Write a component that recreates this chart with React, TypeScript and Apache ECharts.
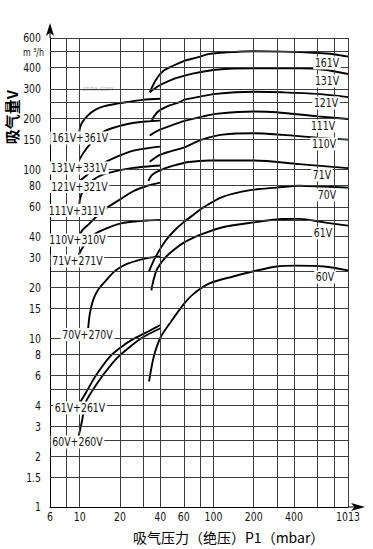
import React, { useEffect, useRef } from 'react';
import * as echarts from 'echarts';

// ---- axes / grid values ----
const xGridLines = [8, 10, 20, 30, 40, 60, 80, 100, 200, 300, 400, 600, 800, 1013];
const xTickLabels = [6, 10, 20, 40, 60, 100, 200, 400, 1013];
const yGridLines = [1.5, 2, 2.5, 3, 4, 5, 6, 8, 10, 15, 20, 25, 30, 40, 50, 60, 80, 100, 150, 200, 250, 300, 400, 500, 600];
const yTickLabels = [1, 1.5, 2, 3, 4, 6, 8, 10, 15, 20, 30, 40, 60, 80, 100, 150, 200, 300, 400, 600];
const yUnitAt = 500;
const yUnitText = 'm ³/h';

// ---- combination curves (pressure mbar, flow m3/h) ----
const c161_361 = [[9.93, 156], [10.05, 177], [10.55, 192], [11.53, 209], [13.06, 225], [15.06, 236], [18.96, 245], [23.9, 252], [29.5, 258], [40, 262]];
const c131_331 = [[9.95, 114.5], [10.85, 127.5], [11.88, 140], [13.5, 154], [15.5, 169], [19.1, 179], [23.8, 187], [31.2, 192], [39.8, 194.5]];
const c121_321 = [[10, 85.4], [10.74, 89.4], [11.53, 93.6], [13.06, 101.4], [15.06, 109], [19.06, 119], [23.8, 127.5], [31.2, 133], [39.8, 136.4]];
const c111_311 = [[9.9, 60], [10.09, 67.7], [10.55, 74.2], [11.33, 80.5], [12.16, 84.8], [13.36, 89.2], [15.06, 93.3], [19.65, 98.7], [25.1, 102], [32.1, 104], [39.8, 105.5]];
const c110_310 = [[9.85, 40], [10.55, 43.9], [11.88, 47.9], [13.77, 53.9], [15.87, 59.1], [19.65, 65.7], [25.1, 74.2], [32.1, 80], [39.8, 83.5]];
const c71_271 = [[9.7, 30.4], [10.24, 33.2], [11.13, 36.8], [12.16, 40], [15.06, 43.9], [19.65, 47.5], [25.1, 49], [32.1, 49.8], [39.8, 50.2]];
const c70_270 = [[11.53, 11], [11.88, 13.8], [12.6, 16.8], [13.77, 19.4], [15.6, 21.8], [18, 24.7], [20.2, 26.3], [23.1, 27.7], [26.5, 28.7], [32.1, 29.8], [39.8, 30.5]];
const c61_261 = [[9.85, 4.04], [11.2, 4.8], [13.36, 6.09], [16.96, 7.84], [21.34, 9.09], [26.5, 10.1], [33, 11.03], [40.2, 11.97]];
const c60_260 = [[9.7, 2.52], [10.42, 3.24], [11.06, 4.14], [12.6, 4.96], [15.06, 6.09], [19.06, 7.64], [23.8, 8.91], [29.5, 10.1], [40.2, 11.45]];

// ---- single pump curves ----
const r161 = [[33.4, 286], [36.9, 336], [41.5, 379], [49.9, 411], [60, 438], [74.7, 459], [93.8, 483], [123.8, 493], [200, 501], [330, 498], [600, 489], [787, 481], [1013, 465]];
const r131 = [[33.4, 286], [39.1, 313], [47, 336], [56.4, 353], [71, 370], [103.6, 389], [200, 397], [440, 397], [671, 389], [1013, 367]];
const r121 = [[34.5, 192], [35.9, 206], [39.1, 222], [47, 239], [56.4, 251], [60, 258], [71, 265], [104, 280], [200, 288], [330, 286], [603, 280], [1013, 268]];
const r111 = [[33.4, 158.5], [35.6, 164], [39.1, 171], [47, 180.5], [60, 193], [83.9, 206], [104, 213], [200, 220], [296, 218], [603, 206], [1013, 198.6]];
const r110 = [[33.4, 111], [39.1, 121], [47, 127.5], [60, 134.6], [71, 143], [83.9, 151], [117.3, 160.6], [200, 163.5], [330, 160], [603, 154], [1013, 150]];
const r71 = [[32.65, 85.4], [34.9, 93], [41.5, 100], [52.7, 106.2], [65.3, 110.6], [93.3, 112.9], [200, 112.9], [438, 107.4], [1013, 101.7]];
const r70 = [[33, 24.9], [36.9, 30.3], [44.1, 38], [51.8, 43.9], [60, 48.7], [71, 53.9], [83.9, 59.5], [117.3, 68.8], [188.7, 75.3], [296, 78], [438, 80], [671, 79], [1013, 78]];
const r61 = [[34.35, 19.2], [35.8, 22.4], [38, 25.8], [44.1, 30.3], [51.8, 33.9], [60, 36.8], [71, 39.4], [83.9, 41.6], [117.3, 45.4], [200, 48.5], [330, 50.8], [438, 50.9], [671, 48.5], [1013, 46.4]];
const r60 = [[33, 5.54], [35.9, 7.84], [40.2, 10.1], [48.4, 12.6], [60, 15.9], [71, 18.3], [93.3, 21.1], [140.2, 23.2], [200, 24.9], [296, 26.6], [410, 26.9], [671, 26.6], [1013, 25.2]];

const curveNames = ['161V+361V', '131V+331V', '121V+321V', '111V+311V', '110V+310V', '71V+271V', '70V+270V', '61V+261V', '60V+260V',
  '161V', '131V', '121V', '111V', '110V', '71V', '70V', '61V', '60V'];
const curveData = [c161_361, c131_331, c121_321, c111_311, c110_310, c71_271, c70_270, c61_261, c60_260,
  r161, r131, r121, r111, r110, r71, r70, r61, r60];

const xTitle = '吸气压力（绝压）P1（mbar）';
const yTitle = '吸气量V';
const watermark = 'zbba.com';

// label placement (pixels) — layout only
const labelPos: Record<string, [number, number]> = {
  '161V+361V': [80, 138], '131V+331V': [79, 168], '121V+321V': [79.5, 186.5], '111V+311V': [77, 210.5],
  '110V+310V': [77.5, 240], '71V+271V': [77.5, 261], '70V+270V': [87.5, 334.5], '61V+261V': [80, 408], '60V+260V': [77.5, 442],
  '161V': [327, 63], '131V': [327, 81], '121V': [326, 103], '111V': [323, 126], '110V': [324, 144],
  '71V': [322, 175], '70V': [327, 195], '61V': [323, 233], '60V': [325, 277],
};

const NARROW = "'Liberation Sans Narrow', 'Arial Narrow', 'DejaVu Sans Condensed', sans-serif";
const SQUEEZE = 0.8;

export default function App() {
  const ref = useRef<HTMLDivElement>(null);
  useEffect(() => {
    document.body.style.margin = '0';
    const chart = echarts.init(ref.current!, null, { renderer: 'svg' });

    const gridMarks: any[] = [
      ...xGridLines.map((v) => ({ xAxis: v })),
      ...yGridLines.map((v) => ({ yAxis: v })),
    ];

    const gridSeries: any = {
      type: 'line',
      data: [],
      z: 1,
      silent: true,
      markLine: {
        silent: true,
        animation: false,
        symbol: ['none', 'none'],
        lineStyle: { color: '#3c3c3c', width: 1, type: 'solid' },
        label: { show: false },
        emphasis: { disabled: true },
        data: gridMarks,
      },
    };

    const curveSeries = curveData.map((d, i) => ({
      name: curveNames[i],
      type: 'line',
      data: d,
      showSymbol: false,
      smooth: 0.3,
      z: 3,
      silent: true,
      lineStyle: { color: '#000', width: 1.9 },
    }));

    chart.setOption({
      animation: false,
      backgroundColor: '#fff',
      grid: { left: 50, right: 25, top: 38, bottom: 42, containLabel: false },
      xAxis: {
        type: 'log',
        logBase: 10,
        min: 6,
        max: 1013,
        axisLabel: { show: false },
        axisTick: { show: false },
        splitLine: { show: false },
        axisLine: {
          show: true,
          lineStyle: { color: '#000', width: 1 },
          symbol: ['none', 'arrow'],
          symbolSize: [6, 14],
          symbolOffset: [0, 17],
        },
      },
      yAxis: {
        type: 'log',
        logBase: 10,
        min: 1,
        max: 600,
        axisLabel: { show: false },
        axisTick: { show: false },
        splitLine: { show: false },
        axisLine: {
          show: true,
          lineStyle: { color: '#000', width: 1 },
          symbol: ['none', 'arrow'],
          symbolSize: [6, 13],
          symbolOffset: [0, 15],
        },
      },
      series: [gridSeries, ...curveSeries],
    });

    const tickFont = `13px ${NARROW}`;
    const xTickG = xTickLabels.map((v) => {
      const p = chart.convertToPixel({ gridIndex: 0 }, [v, 1]) as number[];
      return {
        type: 'text', x: p[0], y: p[1] + 10, scaleX: SQUEEZE,
        style: { text: String(v), font: tickFont, fill: '#111', align: 'center', verticalAlign: 'middle' },
      };
    });
    const yTickG = [...yTickLabels, yUnitAt].map((v) => {
      const p = chart.convertToPixel({ gridIndex: 0 }, [6, v]) as number[];
      const unit = v === yUnitAt;
      return {
        type: 'text', x: p[0] - (unit ? 6 : 9), y: p[1] + (unit ? 1 : 0), scaleX: SQUEEZE,
        style: {
          text: unit ? yUnitText : String(v), font: unit ? `11px ${NARROW}` : tickFont,
          fill: '#111', align: 'right', verticalAlign: 'middle',
        },
      };
    });

    const labelGraphics = curveNames.map((n) => ({
      type: 'text',
      x: labelPos[n][0],
      y: labelPos[n][1],
      z: 100,
      scaleX: SQUEEZE,
      style: {
        text: n,
        font: `13px ${NARROW}`,
        fill: '#111',
        align: 'center',
        verticalAlign: 'middle',
        backgroundColor: '#fff',
        padding: [0, 2],
      },
    }));

    chart.setOption({
      graphic: [
        { type: 'line', shape: { x1: 50, y1: 38, x2: 50, y2: 28 }, style: { stroke: '#000', lineWidth: 1 } },
        { type: 'line', shape: { x1: 348, y1: 507, x2: 360, y2: 507 }, style: { stroke: '#000', lineWidth: 1 } },
        {
          type: 'text', x: 11, y: 117, rotation: Math.PI / 2,
          style: { text: yTitle, font: "bold 15px 'Noto Sans CJK SC'", fill: '#000', align: 'center', verticalAlign: 'middle' },
        },
        {
          type: 'text', x: 133, y: 537,
          style: { text: xTitle, font: "14px 'Noto Sans CJK SC'", fill: '#000', align: 'left', verticalAlign: 'middle' },
        },
        {
          type: 'text', x: 98, y: 88, z: 0,
          style: { text: watermark, font: '7px sans-serif', fill: '#bbb', align: 'center', verticalAlign: 'middle' },
        },
        ...xTickG,
        ...yTickG,
        ...labelGraphics,
      ],
    });
    return () => chart.dispose();
  }, []);
  return <div ref={ref} style={{ width: 373, height: 549, position: 'fixed', left: 0, top: 0 }} />;
}
